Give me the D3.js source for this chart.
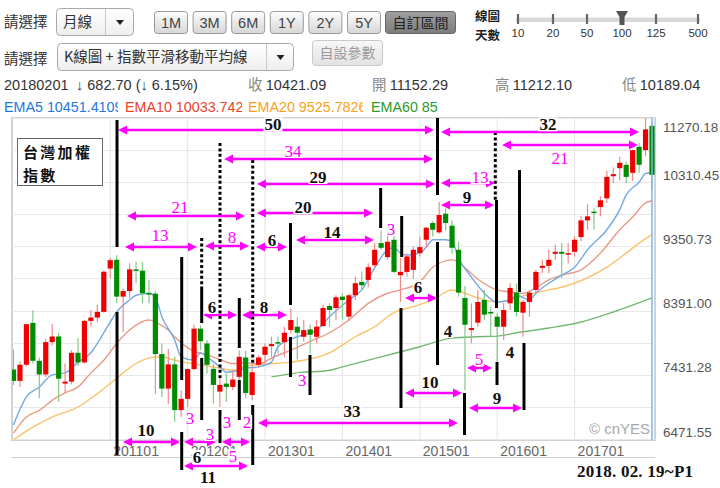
<!DOCTYPE html>
<html>
<head>
<meta charset="utf-8">
<script src="https://cdn.jsdelivr.net/npm/d3@7"></script>
<style>
body { margin: 0; background: #fff; }
svg { display: block; font-family: "Liberation Sans", "Noto Sans CJK TC", sans-serif; }
</style>
</head>
<body>
<svg id="chart" width="720" height="488"></svg>
<script>
// Monthly candles (TAIEX), 100 bars as shown on the chart.
const months = [
    "200910", "200911", "200912",
    "201001", "201002", "201003", "201004", "201005", "201006", "201007", "201008", "201009", "201010", "201011", "201012",
    "201101", "201102", "201103", "201104", "201105", "201106", "201107", "201108", "201109", "201110", "201111", "201112",
    "201201", "201202", "201203", "201204", "201205", "201206", "201207", "201208", "201209", "201210", "201211", "201212",
    "201301", "201302", "201303", "201304", "201305", "201306", "201307", "201308", "201309", "201310", "201311", "201312",
    "201401", "201402", "201403", "201404", "201405", "201406", "201407", "201408", "201409", "201410", "201411", "201412",
    "201501", "201502", "201503", "201504", "201505", "201506", "201507", "201508", "201509", "201510", "201511", "201512",
    "201601", "201602", "201603", "201604", "201605", "201606", "201607", "201608", "201609", "201610", "201611", "201612",
    "201701", "201702", "201703", "201704", "201705", "201706", "201707", "201708", "201709", "201710", "201711",
    "201801", "201802"
];
const opens = [
    7510, 7340, 7582,
    8207, 7640, 7436, 7920, 8004, 7300, 7329, 7760, 7616, 8237, 8287, 8372,
    9020, 9151, 8600, 8683, 9007, 8988, 8652, 8644, 7741, 7225, 7587, 6904,
    7072, 7517, 8121, 7900, 7520, 7180, 7300, 7250, 7400, 7690, 7130, 7580,
    7730, 7860, 7920, 7920, 8100, 8150, 8000, 8110, 8000, 8160, 8460, 8430,
    8600, 8300, 8620, 8820, 8850, 9070, 9400, 9190, 9450, 8920, 8970, 9000,
    9250, 9450, 9700, 9560, 9840, 9660, 9300, 8580, 8100, 8210, 8550, 8370,
    8300, 8150, 8500, 8660, 8360, 8520, 8700, 9030, 9060, 9240, 9270, 9230,
    9270, 9490, 9740, 9870, 9940, 10070, 10400, 10520, 10570, 10450, 10840,
    10790, 11152.29
];
const highs = [
    7810, 7630, 8190,
    8395, 7690, 7970, 8190, 8060, 7600, 7800, 7980, 8250, 8400, 8480, 8990,
    9180, 9220, 8720, 9100, 9120, 9120, 8850, 8680, 7900, 7820, 7700, 7200,
    7520, 8180, 8170, 7950, 7600, 7400, 7450, 7500, 7800, 7790, 7600, 7720,
    7900, 8000, 8000, 8150, 8430, 8290, 8250, 8180, 8250, 8480, 8500, 8620,
    8650, 8650, 8900, 8970, 9100, 9400, 9590, 9560, 9560, 9180, 9250, 9350,
    9500, 9640, 9730, 10014, 9920, 9740, 9420, 8760, 8500, 8700, 8700, 8450,
    8350, 8500, 8800, 8800, 8550, 8700, 9000, 9150, 9300, 9380, 9400, 9400,
    9500, 9800, 9980, 9920, 10100, 10480, 10530, 10690, 10620, 10800, 10900,
    11270.18, 11212.10
];
const lows = [
    7280, 7250, 7560,
    7600, 7080, 7400, 7870, 7030, 7170, 7290, 7560, 7600, 8150, 8220, 8360,
    8880, 8500, 8070, 8580, 8800, 8500, 8500, 7148, 7100, 7000, 6730, 6800,
    6950, 7500, 7800, 7450, 7000, 6950, 7030, 7200, 7330, 7080, 7050, 7540,
    7600, 7700, 7750, 7700, 8050, 7660, 7930, 7740, 7900, 8150, 8150, 8250,
    8260, 8230, 8550, 8700, 8740, 9040, 9300, 9150, 8950, 8520, 8900, 8870,
    9200, 9330, 9500, 9540, 9590, 9240, 8600, 7203, 7900, 8150, 8250, 8000,
    7627, 7950, 8400, 8300, 8000, 8300, 8650, 8950, 8950, 9150, 8880, 9100,
    9200, 9430, 9600, 9600, 9800, 10000, 10300, 10340, 10300, 10330, 10450,
    10700, 10189.04
];
const closes = [
    7340, 7582, 8188,
    7640, 7436, 7920, 8004, 7373, 7329, 7760, 7616, 8237, 8287, 8372, 8972,
    9145, 8600, 8683, 9007, 8988, 8652, 8644, 7741, 7225, 7587, 6904, 7072,
    7517, 8121, 7933, 7580, 7280, 7280, 7250, 7360, 7700, 7160, 7470, 7690,
    7850, 7890, 7900, 8060, 8250, 8060, 8100, 8030, 8150, 8430, 8400, 8590,
    8550, 8620, 8800, 8770, 9040, 9300, 9330, 9420, 8970, 8970, 9200, 9300,
    9340, 9630, 9600, 9820, 9700, 9330, 8660, 8180, 8130, 8520, 8330, 8350,
    8150, 8400, 8730, 8370, 8520, 8660, 8970, 9060, 9150, 9270, 9240, 9250,
    9450, 9740, 9800, 9850, 10040, 10390, 10430, 10600, 10390, 10790, 10570,
    11100, 10421.09
];

// EMA curves: [bar index, value]
const ema5 = [[0, 6680], [2, 7100], [4, 7250], [6, 7430], [8, 7460], [10, 7620], [12, 7760], [13, 7900], [15, 8220], [16, 8370],
    [18, 8550], [19, 8620], [21, 8650], [22, 8590], [23, 8300], [25, 7950], [26, 7700], [28, 7650], [29, 7760], [30, 7700],
    [32, 7550], [33, 7470], [35, 7500], [36, 7530], [38, 7550], [40, 7620], [41, 7850], [44, 8000], [47, 8100], [49, 8300],
    [52, 8550], [54, 8700], [56, 9030], [58, 9300], [59, 9330], [60, 9250], [61, 9220], [63, 9250], [64, 9340], [65, 9450],
    [67, 9450], [68, 9420], [69, 9180], [71, 8890], [73, 8650], [75, 8520], [77, 8550], [78, 8620], [80, 8550], [81, 8650],
    [83, 8800], [85, 8920], [87, 9040], [89, 9300], [92, 9600], [94, 9900], [95, 10120], [97, 10310], [98, 10440], [99, 10451.41]];
const ema10 = [[0, 6560], [2, 6800], [4, 6900], [6, 7050], [8, 7160], [10, 7250], [12, 7460], [14, 7650], [16, 7900], [18, 8100],
    [21, 8250], [22, 8220], [24, 8100], [25, 8000], [26, 7910], [28, 7780], [30, 7730], [32, 7660], [34, 7600], [36, 7610],
    [38, 7590], [40, 7680], [43, 7800], [46, 7930], [49, 8060], [52, 8250], [55, 8500], [58, 8650], [60, 8700], [63, 8820],
    [65, 9040], [68, 9150], [70, 9030], [72, 8860], [75, 8700], [77, 8670], [79, 8650], [81, 8730], [83, 8850], [85, 8920],
    [88, 9000], [91, 9250], [94, 9600], [96, 9790], [98, 10000], [99, 10033.74]];
const ema20 = [[0, 6460], [3, 6650], [6, 6800], [10, 6950], [13, 7150], [16, 7380], [17, 7460], [19, 7600], [21, 7680], [23, 7700],
    [25, 7650], [27, 7610], [29, 7580], [32, 7530], [34, 7500], [36, 7560], [39, 7590], [43, 7620], [49, 7760], [53, 8000],
    [56, 8150], [59, 8360], [62, 8450], [65, 8550], [68, 8700], [70, 8650], [72, 8580], [75, 8520], [79, 8610], [83, 8700],
    [85, 8740], [87, 8800], [92, 9040], [95, 9250], [97, 9400], [99, 9525.78]];
const ema60 = [[40, 7400], [44, 7460], [49, 7500], [51, 7550], [57, 7700], [63, 7850], [68, 7980], [72, 8000], [75, 8010],
    [78, 8060], [83, 8130], [88, 8220], [93, 8370], [99, 8580]];

const yTicks = [6471.55, 7431.28, 8391.00, 9350.73, 10310.45, 11270.18];
const yearTicks = ["201101", "201201", "201301", "201401", "201501", "201601", "201701"];

// header texts
const rangeButtons = ["1M", "3M", "6M", "1Y", "2Y", "5Y"];
const dayOptions = ["10", "20", "50", "100", "125", "500"];
const quoteDate = "20180201";
const quoteChange = "↓ 682.70 (↓ 6.15%)";
const quoteNames = ["收", "開", "高", "低"];
const quoteValues = ["10421.09", "11152.29", "11212.10", "10189.04"];
const emaNames = ["EMA5", "EMA10", "EMA20", "EMA60"];
const emaLast = ["10451.4109", "10033.7427", "9525.7826", "8578.1204"];

// hand drawn marks, in bar index / index value
const markLines = [ // [bar, from, to, dotted]
    [16.05, 11240, 9342, 0], [16.05, 8370, 6232, 0],
    [65.74, 11270, 10119, 0], [65.74, 9417, 7578, 0],
    [56.93, 10224, 9626, 0], [60.19, 9805, 9192, 0], [60.08, 8430, 6935, 0],
    [74.7, 11060, 10044, 1], [74.89, 10044, 8430, 0], [74.97, 7623, 7279, 0],
    [78.46, 10492, 8669, 0], [79.15, 7907, 6905, 0], [69.93, 7159, 6531, 0],
    [26.08, 9192, 7354, 0], [26.08, 6576, 6008, 0],
    [29.18, 9476, 8729, 1], [29.18, 8729, 8206, 0], [29.18, 7682, 6756, 0],
    [32.02, 10896, 7383, 1], [32.02, 6905, 6412, 0],
    [35.01, 8579, 7832, 0], [35.01, 7354, 6756, 0],
    [37.09, 10642, 7608, 1], [37.09, 6980, 6083, 0],
    [42.95, 9700, 8475, 0], [42.95, 7996, 7398, 0],
    [45.97, 7727, 7129, 0]
];
const spans = [ // [from bar, to bar, value]
    [16.2, 65.2, 11090], [66.28, 96.99, 11060], [32.64, 65.04, 10657], [75.74, 96.83, 10866],
    [37.75, 65.35, 10283], [66.28, 74.66, 10298], [66.28, 74.5, 9970], [17.6, 35.89, 9805],
    [37.75, 55.74, 9850], [17.29, 28.45, 9342], [29.69, 36.51, 9357], [37.6, 42.41, 9342],
    [43.8, 55.9, 9447], [29.39, 34.65, 8325], [35.43, 42.41, 8325], [60.7, 65.65, 8579],
    [70.32, 74.19, 7533], [60.7, 69.54, 7159], [37.91, 68.92, 6711], [70.63, 78.84, 6935],
    [16.98, 25.82, 6427], [26.44, 31.4, 6427], [32.33, 36.67, 6427], [26.44, 36.36, 6068]
];
const counts = [ // [bar, value, text, magenta]
    [40.24, 11175, "50", 0], [82.88, 11175, "32", 0], [43.34, 10777, "34", 1], [84.74, 10672, "21", 1],
    [47.21, 10388, "29", 0], [72.33, 10388, "13", 1], [70.32, 10089, "9", 0], [25.82, 9940, "21", 1],
    [44.89, 9940, "20", 0], [22.71, 9521, "13", 1], [33.88, 9491, "8", 1], [40.08, 9447, "6", 0],
    [49.38, 9566, "14", 0], [58.53, 9611, "3", 1], [30.78, 8445, "6", 0], [38.84, 8445, "8", 0],
    [62.72, 8744, "6", 0], [67.37, 8086, "4", 0], [72.18, 7667, "5", 1], [64.58, 7324, "10", 0],
    [52.48, 6890, "33", 0], [74.97, 7084, "9", 0], [76.98, 7772, "4", 0], [44.73, 7354, "3", 1],
    [27.37, 6785, "3", 1], [33.1, 6726, "3", 1], [36.2, 6726, "2", 1], [20.54, 6606, "10", 0],
    [30.47, 6546, "3", 1], [34.03, 6217, "5", 1], [28.45, 6202, "6", 0], [30.16, 5903, "11", 0]
];

const svg = d3.select("#chart");
const cjk = '"Noto Sans CJK TC", sans-serif';

// ---------- header ----------
const defs = svg.append("defs");
function grad(id, a, b) {
    const g = defs.append("linearGradient").attr("id", id).attr("x1", 0).attr("y1", 0).attr("x2", 0).attr("y2", 1);
    g.append("stop").attr("offset", 0).attr("stop-color", a);
    g.append("stop").attr("offset", 1).attr("stop-color", b);
}
grad("btn", "#fdfdfd", "#d6d6d6");
grad("btnOn", "#a0a0a0", "#7c7c7c");
grad("sel", "#ffffff", "#eeeeee");
grad("off", "#f8f8f8", "#e2e2e2");

const ui = svg.append("g");
[27, 64].forEach(b => {
    ui.append("text").attr("x", 4).attr("y", b).style("font-family", cjk).style("font-size", "14.5px")
        .attr("fill", "#333").text("請選擇");
});

function dropdown(x0, y0, w, label, div) {
    ui.append("rect").attr("x", x0 + 0.5).attr("y", y0 + 0.5).attr("width", w).attr("height", 27).attr("rx", 4)
        .attr("fill", "url(#sel)").attr("stroke", "#a8a8a8");
    ui.append("text").attr("x", x0 + 7).attr("y", y0 + 19).style("font-family", cjk).style("font-size", "14.5px")
        .attr("fill", "#333").text(label);
    ui.append("line").attr("x1", div + 0.5).attr("x2", div + 0.5).attr("y1", y0 + 1).attr("y2", y0 + 27).attr("stroke", "#c8c8c8");
    const c = (div + x0 + w) / 2 + 1;
    ui.append("path").attr("d", `M${c - 4},${y0 + 12}L${c + 4},${y0 + 12}L${c},${y0 + 17}Z`).attr("fill", "#222");
}
dropdown(56, 8, 77, "月線", 105);
dropdown(57, 43, 236, "K線圖 + 指數平滑移動平均線", 266);

rangeButtons.forEach((t, i) => {
    const bx = 154 + i * 38.6;
    ui.append("rect").attr("x", bx + 0.5).attr("y", 11.5).attr("width", 33).attr("height", 22).attr("rx", 3)
        .attr("fill", "url(#btn)").attr("stroke", "#999");
    ui.append("text").attr("x", bx + 17).attr("y", 27.5).attr("text-anchor", "middle").style("font-size", "14.5px")
        .attr("fill", "#444").text(t);
});
ui.append("rect").attr("x", 385.5).attr("y", 11.5).attr("width", 70).attr("height", 22).attr("rx", 3)
    .attr("fill", "url(#btnOn)").attr("stroke", "#666");
ui.append("text").attr("x", 420.5).attr("y", 27.5).attr("text-anchor", "middle").style("font-family", cjk)
    .style("font-size", "14px").attr("fill", "#222").text("自訂區間");

ui.append("text").attr("x", 475).attr("y", 21).style("font-family", cjk).style("font-size", "12.5px")
    .style("font-weight", 700).attr("fill", "#222").text("線圖");
ui.append("text").attr("x", 475).attr("y", 40).style("font-family", cjk).style("font-size", "12.5px")
    .style("font-weight", 700).attr("fill", "#222").text("天數");

const sliderX = [518, 553, 587, 622, 656, 698];
ui.append("rect").attr("x", 516).attr("y", 17.5).attr("width", 184).attr("height", 4.5).attr("rx", 2).attr("fill", "#d9d9d9");
dayOptions.forEach((t, i) => {
    ui.append("line").attr("x1", sliderX[i]).attr("x2", sliderX[i]).attr("y1", 14).attr("y2", 24)
        .attr("stroke", "#666").attr("stroke-width", 2.2);
    ui.append("text").attr("x", sliderX[i]).attr("y", 37).attr("text-anchor", "middle").style("font-size", "11.5px")
        .attr("fill", "#333").text(t);
});
ui.append("path").attr("d", "M616,11H628L624.5,17V25H619.5V17Z").attr("fill", "#555");

ui.append("rect").attr("x", 312.5).attr("y", 40.5).attr("width", 70).attr("height", 25).attr("rx", 3)
    .attr("fill", "url(#off)").attr("stroke", "#c8c8c8");
ui.append("text").attr("x", 347.5).attr("y", 58).attr("text-anchor", "middle").style("font-family", cjk)
    .style("font-size", "14px").attr("fill", "#9a9a9a").text("自設參數");

ui.append("text").attr("x", 4).attr("y", 90).style("font-size", "14.5px").attr("fill", "#333").text(quoteDate);
ui.append("text").attr("x", 76).attr("y", 90).style("font-size", "14.5px").attr("fill", "#333").text(quoteChange);
const quoteX = [248, 372, 495, 622];
quoteNames.forEach((n, i) => {
    const t = ui.append("text").attr("x", quoteX[i]).attr("y", 90).style("font-size", "14.5px");
    t.append("tspan").style("font-family", cjk).attr("fill", "#888").text(n + " ");
    t.append("tspan").attr("fill", "#333").text(quoteValues[i]);
});

const emaColors = ["#1f78e0", "#e8432d", "#f7a21b", "#2c9a2c"];
const emaBox = [[4, 118], [125, 242], [248, 363], [371, 438]];
emaNames.forEach((n, i) => {
    defs.append("clipPath").attr("id", "emaclip" + i).append("rect")
        .attr("x", emaBox[i][0]).attr("y", 95).attr("width", emaBox[i][1] - emaBox[i][0]).attr("height", 20);
    ui.append("text").attr("x", emaBox[i][0]).attr("y", 112).attr("clip-path", `url(#emaclip${i})`)
        .style("font-size", "14.3px").attr("fill", emaColors[i]).text(n + " " + emaLast[i]);
});

// ---------- chart ----------
const plot = { left: 12, top: 118, right: 655, bottom: 440 };
const x = d3.scaleLinear().domain([0, months.length - 1]).range([13.5, 652]);
const y = d3.scaleLinear().domain([yTicks[0], yTicks[yTicks.length - 1]]).range([439, 118]);

const chart = svg.append("g");
chart.append("rect").attr("x", plot.left).attr("y", plot.top).attr("width", plot.right - plot.left)
    .attr("height", plot.bottom - plot.top).attr("fill", "#fff").attr("stroke", "#d2d2d2").attr("stroke-width", 2);

const half = (yTicks[1] - yTicks[0]) / 2;
const grid = chart.append("g").attr("stroke", "#e8e8e8").attr("stroke-width", 1.2);
d3.range(11).forEach(k => {
    const gy = Math.round(y(yTicks[0] + k * half)) + 0.5;
    grid.append("line").attr("x1", plot.left).attr("x2", plot.right).attr("y1", gy).attr("y2", gy);
});
const yearIdx = months.map((m, i) => i).filter(i => yearTicks.includes(months[i]));
yearIdx.forEach(i => {
    grid.append("line").attr("x1", x(i)).attr("x2", x(i)).attr("y1", plot.top).attr("y2", plot.bottom);
});

// y labels
yTicks.forEach(v => {
    chart.append("text").attr("x", 663).attr("y", Math.max(132, y(v) - 2.5)).style("font-size", "13.5px")
        .attr("fill", "#555").text(v.toFixed(2));
});
// x labels
yearIdx.forEach(i => {
    chart.append("text").attr("x", x(i) + 3).attr("y", 456).style("font-size", "14px").attr("fill", "#666").text(months[i]);
});
chart.append("line").attr("x1", plot.left).attr("x2", plot.right).attr("y1", 457.5).attr("y2", 457.5).attr("stroke", "#cfcfcf");

chart.append("text").attr("x", 650).attr("y", 434).attr("text-anchor", "end").style("font-size", "15px")
    .attr("fill", "#a8a8a8").text("© cnYES");

defs.append("clipPath").attr("id", "plotclip").append("rect")
    .attr("x", plot.left).attr("y", plot.top).attr("width", plot.right - plot.left).attr("height", plot.bottom - plot.top);
const inner = chart.append("g").attr("clip-path", "url(#plotclip)");

// EMA lines
const line = d3.line().x(d => x(d[0])).y(d => y(d[1])).curve(d3.curveMonotoneX);
[[ema60, "#74b874"], [ema20, "#f9c26c"], [ema10, "#e99a85"], [ema5, "#72a9e6"]].forEach(([s, c]) => {
    inner.append("path").datum(s).attr("d", line).attr("fill", "none").attr("stroke", c).attr("stroke-width", 1.4);
});

// candles
const bars = inner.selectAll("g.candle").data(d3.range(months.length)).join("g").attr("class", "candle");
const up = i => closes[i] >= opens[i];
bars.append("line")
    .attr("x1", i => x(i)).attr("x2", i => x(i))
    .attr("y1", i => y(highs[i])).attr("y2", i => y(lows[i]))
    .attr("stroke", i => up(i) ? "#f08a8a" : "#84c984").attr("stroke-width", 1.2);
bars.append("rect")
    .attr("x", i => x(i) - 2.6).attr("width", 5.2)
    .attr("y", i => y(Math.max(opens[i], closes[i])))
    .attr("height", i => Math.max(1.5, Math.abs(y(opens[i]) - y(closes[i]))))
    .attr("fill", i => up(i) ? "#ee0000" : "#008c00");

// crosshair on the last bar
inner.append("line").attr("x1", x(months.length - 1)).attr("x2", x(months.length - 1))
    .attr("y1", plot.top).attr("y2", plot.bottom).attr("stroke", "#78b6ec").attr("stroke-width", 1.5);

// ---------- hand drawn notes ----------
const ann = svg.append("g");
markLines.forEach(([i, a, b, dotted]) => {
    ann.append("line").attr("x1", x(i)).attr("x2", x(i)).attr("y1", y(a)).attr("y2", y(b))
        .attr("stroke", "#000").attr("stroke-width", 3)
        .attr("stroke-dasharray", dotted ? "3,2.4" : null);
});
spans.forEach(([a, b, v]) => {
    const x1 = x(a), x2 = x(b), yy = y(v);
    ann.append("line").attr("x1", x1 + 6).attr("x2", x2 - 6).attr("y1", yy).attr("y2", yy)
        .attr("stroke", "#ff00ff").attr("stroke-width", 2.4);
    ann.append("path").attr("d", `M${x1},${yy}L${x1 + 9},${yy - 4.5}L${x1 + 9},${yy + 4.5}Z`).attr("fill", "#ff00ff");
    ann.append("path").attr("d", `M${x2},${yy}L${x2 - 9},${yy - 4.5}L${x2 - 9},${yy + 4.5}Z`).attr("fill", "#ff00ff");
});
counts.forEach(([i, v, t, magenta]) => {
    const fs = 17;
    const tx = ann.append("text").attr("x", x(i)).attr("y", y(v) + fs * 0.33).attr("text-anchor", "middle")
        .style("font-family", '"Liberation Serif", serif').style("font-size", fs + "px")
        .style("font-weight", magenta ? 400 : 700).attr("fill", magenta ? "#ff00ff" : "#111").text(t);
    const w = tx.node().getComputedTextLength();
    ann.insert("rect", () => tx.node()).attr("x", x(i) - w / 2 - 1).attr("y", y(v) - 7)
        .attr("width", w + 2).attr("height", 14).attr("fill", "#fff");
});

// title box and date stamp
ann.append("rect").attr("x", 17.5).attr("y", 138.5).attr("width", 85).attr("height", 47)
    .attr("fill", "#fff").attr("stroke", "#666");
ann.append("text").attr("x", 23).attr("y", 158).style("font-family", cjk).style("font-size", "15px")
    .style("font-weight", 700).style("letter-spacing", "2.3px").attr("fill", "#111").text("台灣加權");
ann.append("text").attr("x", 23).attr("y", 181).style("font-family", cjk).style("font-size", "15px")
    .style("font-weight", 700).style("letter-spacing", "2.3px").attr("fill", "#111").text("指數");
ann.append("text").attr("x", 577).attr("y", 477).attr("textLength", 116).attr("lengthAdjust", "spacing")
    .style("font-family", '"Liberation Serif", serif').style("font-size", "17px").style("font-weight", 700)
    .attr("fill", "#111").text("2018. 02. 19~P1");
</script>
</body>
</html>
